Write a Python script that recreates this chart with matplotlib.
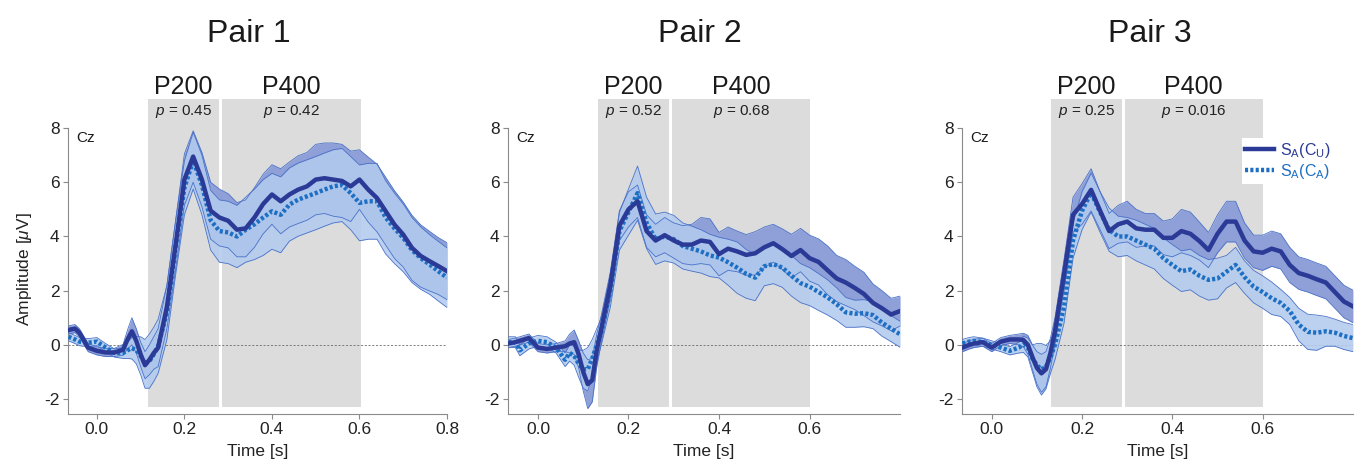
"""
ERP en Cz para tres pares: S_A(C_U) frente a S_A(C_A), con ventanas
P200 y P400 sombreadas y el valor p de cada ventana.
"""

import numpy as np
import matplotlib
matplotlib.use("Agg")
import matplotlib.pyplot as plt
from matplotlib.lines import Line2D

plt.rcParams["font.family"] = ["Liberation Sans", "DejaVu Sans"]
plt.rcParams["mathtext.fontset"] = "custom"
plt.rcParams["mathtext.rm"] = "Liberation Sans"
plt.rcParams["mathtext.it"] = "Liberation Sans:italic"
plt.rcParams["axes.unicode_minus"] = False

# --- datos ---------------------------------------------------------------
TIEMPO = [-0.065, -0.05, -0.04, -0.02, 0.0, 0.02, 0.04, 0.06, 0.07, 0.08,
          0.09, 0.10, 0.11, 0.12, 0.13, 0.14, 0.16, 0.18, 0.20, 0.22,
          0.24, 0.26, 0.28, 0.30, 0.32, 0.34, 0.36, 0.38, 0.40, 0.42,
          0.44, 0.46, 0.48, 0.50, 0.52, 0.54, 0.56, 0.58, 0.60, 0.62,
          0.64, 0.66, 0.68, 0.70, 0.72, 0.74, 0.76, 0.78, 0.80]

PARES = ["Pair 1", "Pair 2", "Pair 3"]

# media S_A(C_U) (linea continua)
U1 = [0.55, 0.6, 0.45, -0.1, -0.22, -0.28, -0.28, -0.18, 0.2, 0.5,
      0.15, -0.35, -0.75, -0.55, -0.3, -0.1, 1.4, 3.7, 6.1, 6.95,
      6.1, 4.95, 4.7, 4.58, 4.25, 4.3, 4.7, 5.2, 5.55, 5.3,
      5.55, 5.73, 5.85, 6.1, 6.15, 6.1, 6.05, 5.85, 6.1, 5.73,
      5.42, 4.93, 4.44, 4.07, 3.58, 3.28, 3.09, 2.91, 2.72]
U2 = [0.05, 0.1, 0.15, 0.25, -0.1, -0.15, -0.1, -0.05, 0.05, 0.1,
      -0.35, -1.0, -1.45, -1.3, -0.2, 0.6, 2.2, 4.4, 5.0, 5.3,
      4.2, 3.85, 4.05, 3.85, 3.7, 3.7, 3.85, 3.8, 3.35, 3.55,
      3.45, 3.32, 3.38, 3.6, 3.75, 3.53, 3.28, 3.5, 3.2, 3.06,
      2.75, 2.45, 2.3, 2.1, 1.88, 1.55, 1.35, 1.12, 1.25]
U3 = [-0.1, 0.0, 0.05, 0.1, -0.1, 0.12, 0.2, 0.2, 0.18, 0.0,
      -0.45, -0.85, -1.05, -0.9, -0.3, 0.5, 2.6, 4.8, 5.2, 5.72,
      4.95, 4.2, 4.45, 4.55, 4.3, 4.25, 4.25, 3.95, 3.95, 4.2,
      4.1, 3.83, 3.5, 4.1, 4.55, 4.55, 3.85, 3.45, 3.4, 3.55,
      3.45, 2.95, 2.65, 2.55, 2.42, 2.3, 1.95, 1.6, 1.42]

# media S_A(C_A) (linea punteada)
A1 = [0.3, 0.2, 0.12, 0.08, 0.12, -0.1, -0.3, -0.3, -0.2, -0.12,
      -0.2, -0.4, -0.7, -0.6, -0.35, -0.05, 1.2, 3.6, 5.8, 6.8,
      5.9, 4.6, 4.2, 4.15, 4.0, 4.25, 4.45, 4.7, 4.93, 4.8,
      5.18, 5.36, 5.48, 5.6, 5.73, 5.85, 5.9, 5.6, 5.24, 5.3,
      5.3, 4.7, 4.3, 3.95, 3.5, 3.2, 2.97, 2.72, 2.48]
A2 = [0.1, 0.1, -0.2, 0.05, 0.15, 0.1, -0.1, -0.55, -0.3, -0.4,
      -0.7, -0.9, -0.9, -0.5, 0.0, 0.5, 2.0, 4.2, 4.9, 5.6,
      4.5, 3.9, 4.0, 3.9, 3.65, 3.55, 3.45, 3.3, 3.22, 3.05,
      2.85, 2.62, 2.48, 2.9, 2.98, 2.85, 2.55, 2.28, 2.15, 1.95,
      1.75, 1.5, 1.2, 1.15, 1.17, 1.1, 0.82, 0.6, 0.39]
A3 = [0.05, 0.12, 0.15, 0.1, 0.0, -0.1, -0.22, -0.1, 0.02, -0.1,
      -0.5, -0.75, -0.9, -0.82, -0.45, 0.0, 1.4, 3.85, 4.95, 5.62,
      4.9, 4.25, 4.0, 4.0, 3.85, 3.7, 3.55, 3.2, 2.95, 2.72,
      2.78, 2.55, 2.4, 2.45, 2.7, 2.95, 2.5, 2.15, 1.95, 1.72,
      1.55, 1.25, 0.75, 0.48, 0.45, 0.5, 0.45, 0.33, 0.25]

# error estandar (semiancho de la banda)
SEM_U1 = [0.15, 0.15, 0.15, 0.15, 0.15, 0.15, 0.15, 0.2, 0.35, 0.5,
          0.45, 0.45, 0.5, 0.55, 0.6, 0.7, 0.8, 0.9, 0.95, 0.95,
          1.0, 1.05, 1.05, 1.0, 1.0, 1.05, 1.1, 1.1, 1.1, 1.2,
          1.2, 1.25, 1.25, 1.3, 1.3, 1.35, 1.35, 1.3, 1.1, 1.2,
          1.25, 1.25, 1.25, 1.2, 1.2, 1.15, 1.1, 1.05, 1.05]
SEM_U2 = [0.15, 0.15, 0.15, 0.15, 0.15, 0.15, 0.15, 0.2, 0.35, 0.45,
          0.5, 0.7, 0.9, 0.8, 0.6, 0.5, 0.5, 0.55, 0.65, 0.6,
          0.6, 0.6, 0.65, 0.65, 0.7, 0.75, 0.85, 0.85, 0.8, 0.8,
          0.75, 0.75, 0.8, 0.75, 0.7, 0.75, 0.8, 0.8, 0.85, 0.85,
          0.9, 0.85, 0.85, 0.8, 0.8, 0.7, 0.65, 0.6, 0.55]
SEM_U3 = [0.15, 0.15, 0.15, 0.15, 0.15, 0.15, 0.15, 0.2, 0.25, 0.35,
          0.45, 0.6, 0.7, 0.65, 0.55, 0.5, 0.55, 0.65, 0.75, 0.78,
          0.7, 0.65, 0.7, 0.75, 0.7, 0.6, 0.6, 0.62, 0.7, 0.8,
          0.8, 0.7, 0.65, 0.7, 0.75, 0.75, 0.65, 0.6, 0.65, 0.65,
          0.65, 0.65, 0.6, 0.6, 0.6, 0.6, 0.6, 0.6, 0.6]
SEM_A1 = [0.15, 0.15, 0.15, 0.15, 0.15, 0.15, 0.15, 0.2, 0.3, 0.4,
          0.5, 0.7, 0.9, 1.0, 1.0, 1.0, 1.0, 1.0, 1.0, 1.05,
          1.1, 1.1, 1.15, 1.15, 1.15, 1.2, 1.3, 1.4, 1.4, 1.4,
          1.35, 1.35, 1.35, 1.35, 1.35, 1.35, 1.35, 1.35, 1.4, 1.4,
          1.4, 1.35, 1.3, 1.25, 1.2, 1.15, 1.1, 1.1, 1.1]
SEM_A2 = [0.2, 0.2, 0.2, 0.2, 0.2, 0.2, 0.2, 0.25, 0.3, 0.35,
          0.5, 0.7, 0.8, 0.7, 0.6, 0.5, 0.6, 0.7, 0.85, 1.0,
          0.95, 0.93, 0.9, 0.88, 0.85, 0.83, 0.8, 0.78, 0.75, 0.85,
          0.95, 0.9, 0.85, 0.72, 0.72, 0.73, 0.75, 0.72, 0.7, 0.68,
          0.65, 0.6, 0.55, 0.5, 0.5, 0.5, 0.5, 0.48, 0.48]
SEM_A3 = [0.15, 0.15, 0.15, 0.15, 0.15, 0.15, 0.15, 0.2, 0.3, 0.35,
          0.5, 0.8, 0.95, 0.8, 0.6, 0.55, 0.6, 0.65, 0.7, 0.72,
          0.75, 0.8, 0.75, 0.7, 0.75, 0.75, 0.75, 0.75, 0.75, 0.75,
          0.75, 0.75, 0.75, 0.75, 0.6, 0.65, 0.6, 0.6, 0.6, 0.6,
          0.5, 0.5, 0.6, 0.65, 0.65, 0.55, 0.5, 0.5, 0.5]

# ventanas de analisis [s] y valores p
P200_VENTANA = [(0.117, 0.279), (0.133, 0.290), (0.131, 0.288)]
P400_VENTANA = [(0.286, 0.603), (0.297, 0.602), (0.295, 0.600)]
P200_P = ["0.45", "0.52", "0.25"]
P400_P = ["0.42", "0.68", "0.016"]

X_TICKS = [[0.0, 0.2, 0.4, 0.6, 0.8], [0.0, 0.2, 0.4, 0.6], [0.0, 0.2, 0.4, 0.6]]
Y_TICKS = [-2, 0, 2, 4, 6, 8]

# --- estilo ----------------------------------------------------------------
COL_U = "#2b3a96"
COL_A = "#1d6fc4"
BANDA_U = "#8f9fd8"
BANDA_A = "#b3cbee"
BORDE = "#4a72c8"
GRIS = "#dcdcdc"
EJE = "#8a8a8a"

POS_EJES = [[0.0501, 0.102, 0.2793, 0.6848],
            [0.3744, 0.102, 0.2889, 0.6848],
            [0.7089, 0.102, 0.2881, 0.6848]]
POS_TITULO = [0.1835, 0.5158, 0.8475]
YLIM = (-2.55, 9.1)


def graficar_panel(ax, t, u, sem_u, a, sem_a, v200, v400, p200, p400, xticks):
    t = np.asarray(t)
    u, sem_u = np.asarray(u), np.asarray(sem_u)
    a, sem_a = np.asarray(a), np.asarray(sem_a)

    # ventanas sombreadas
    for (x0, x1) in (v200, v400):
        ax.fill_between([x0, x1], -2.3, 9.07, color=GRIS, lw=0, zorder=0)
    ax.axhline(0, color="#6e6e6e", lw=0.6, ls=(0, (2.5, 2)), zorder=1)

    ax.fill_between(t, u - sem_u, u + sem_u, color=BANDA_U, lw=0, zorder=2)
    ax.fill_between(t, a - sem_a, a + sem_a, color=BANDA_A, alpha=0.88,
                    lw=0, zorder=3)
    for borde in (u - sem_u, u + sem_u, a - sem_a, a + sem_a):
        ax.plot(t, borde, color=BORDE, lw=0.6, zorder=4)

    ax.plot(t, a, color=COL_A, lw=3.2, ls=(0, (0.7, 0.5)), zorder=5)
    ax.plot(t, u, color=COL_U, lw=3.2, solid_joinstyle="round", zorder=6)

    # etiquetas de componentes
    c200 = sum(v200) / 2
    c400 = sum(v400) / 2
    ax.text(c200, 9.24, "P200", ha="center", va="baseline", fontsize=18,
            color="#1a1a1a")
    ax.text(c400, 9.24, "P400", ha="center", va="baseline", fontsize=18,
            color="#1a1a1a")
    ax.text(c200, 8.5, r"$p$ = " + p200, ha="center", va="baseline",
            fontsize=11, color="#222222")
    ax.text(c400, 8.5, r"$p$ = " + p400, ha="center", va="baseline",
            fontsize=11, color="#222222")
    ax.text(0.022, 0.86, "Cz", transform=ax.transAxes, fontsize=11,
            va="baseline", color="#1a1a1a")

    ax.set_xlim(-0.066, 0.80)
    ax.set_ylim(*YLIM)
    ax.set_xticks(xticks)
    ax.set_xticklabels([f"{v:.1f}" for v in xticks])
    ax.set_yticks(Y_TICKS)
    ax.set_yticklabels([str(v) for v in Y_TICKS])
    ax.tick_params(length=3.5, width=0.8, color=EJE, labelsize=12.5, pad=2.5,
                   labelcolor="#222222")
    for lado in ("top", "right"):
        ax.spines[lado].set_visible(False)
    for lado in ("left", "bottom"):
        ax.spines[lado].set_color(EJE)
        ax.spines[lado].set_linewidth(0.8)
    ax.spines["left"].set_bounds(YLIM[0], 8)
    ax.text(0.5, -0.12, "Time [s]", transform=ax.transAxes, ha="center",
            va="center", fontsize=12.5, color="#222222")
    ax.patch.set_alpha(0)


def main():
    fig = plt.figure(figsize=(13.57, 4.61), dpi=100)
    medias_u = [U1, U2, U3]
    medias_a = [A1, A2, A3]
    sems_u = [SEM_U1, SEM_U2, SEM_U3]
    sems_a = [SEM_A1, SEM_A2, SEM_A3]

    ejes = []
    for i in range(3):
        ax = fig.add_axes(POS_EJES[i])
        graficar_panel(ax, TIEMPO, medias_u[i], sems_u[i], medias_a[i],
                       sems_a[i], P200_VENTANA[i], P400_VENTANA[i],
                       P200_P[i], P400_P[i], X_TICKS[i])
        fig.text(POS_TITULO[i], 0.9095, PARES[i], ha="center", va="baseline",
                 fontsize=23, color="#1a1a1a")
        ejes.append(ax)

    fig.text(0.018, 0.4154, r"Amplitude [$\mu$V]", rotation=90, ha="center",
             va="center", fontsize=12.5, color="#222222")

    manejadores = [Line2D([], [], color=COL_U, lw=3.2),
                   Line2D([], [], color=COL_A, lw=3.2, ls=(0, (0.7, 0.5)))]
    etiquetas = [r"S$_\mathregular{A}$(C$_\mathregular{U}$)",
                 r"S$_\mathregular{A}$(C$_\mathregular{A}$)"]
    leg = ejes[2].legend(manejadores, etiquetas, loc="upper left",
                         bbox_to_anchor=(0.716, 0.875), fontsize=11.5,
                         frameon=True, fancybox=False, framealpha=1,
                         edgecolor="none", handlelength=1.8,
                         handletextpad=0.4, borderpad=0.2,
                         labelspacing=0.1, borderaxespad=0)
    for txt, col in zip(leg.get_texts(), [COL_U, COL_A]):
        txt.set_color(col)
    leg.set_zorder(10)

    fig.savefig("out.png", dpi=100)


if __name__ == "__main__":
    main()
